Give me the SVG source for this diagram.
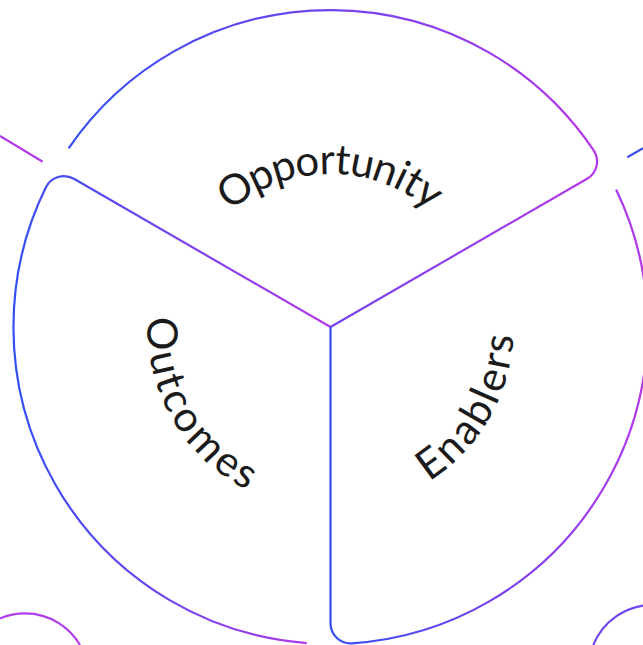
<svg xmlns="http://www.w3.org/2000/svg" width="643" height="645" viewBox="0 0 643 645">
  <style>
    .ring { fill: none; stroke-width: 2.2; stroke-linecap: butt; stroke-linejoin: round; }
    .label { font-family: Lato, "Open Sans", "Liberation Sans", sans-serif; font-size: 42px; letter-spacing: 0.8px; fill: #1b1b1b; }
  </style>
  <defs>
    <!-- horizontal blue-to-violet strokes, one per segment -->
    <linearGradient id="gTop" gradientUnits="userSpaceOnUse" x1="68" y1="0" x2="598" y2="0">
      <stop offset="0" stop-color="#3350f2"/>
      <stop offset="1" stop-color="#b638ea"/>
    </linearGradient>
    <linearGradient id="gLeft" gradientUnits="userSpaceOnUse" x1="13" y1="0" x2="331" y2="0">
      <stop offset="0" stop-color="#3350f2"/>
      <stop offset="1" stop-color="#b638ea"/>
    </linearGradient>
    <linearGradient id="gRight" gradientUnits="userSpaceOnUse" x1="330" y1="0" x2="648" y2="0">
      <stop offset="0" stop-color="#3350f2"/>
      <stop offset="1" stop-color="#b638ea"/>
    </linearGradient>
    <!-- label guides, radius 168 around the hub -->
    <path id="arcTop" d="M162.5,327 A168,168 0 0 1 498.5,327"/>
    <path id="arcLeft" d="M234.1,189.4 A168,168 0 0 0 401.5,479.3"/>
    <path id="arcRight" d="M259.5,479.3 A168,168 0 0 0 426.9,189.4"/>
  </defs>

  <!-- fragments of the neighbouring rings -->
  <g id="neighbours" class="ring">
    <line x1="0" y1="136" x2="42.7" y2="161.7" stroke="#b43ae9"/>
    <line x1="627.3" y1="157.3" x2="643" y2="148.3" stroke="#3a4ff2"/>
    <path d="M-30,645 A63.6,63.6 0 0 1 80,645" stroke="#b03cea"/>
    <path d="M593.3,645 A64,64 0 0 1 712,645" stroke="#6f45f0"/>
  </g>

  <g id="opportunity">
    <path class="ring" stroke="url(#gTop)" d="M68.6,148.4 A317,317 0 0 1 593.7,150.4 A20,20 0 0 1 587.1,178.8 L330.5,327"/>
    <text class="label" dy="15"><textPath href="#arcTop" startOffset="50%" text-anchor="middle">Opportunity</textPath></text>
  </g>

  <g id="outcomes">
    <path class="ring" stroke="url(#gLeft)" d="M330.5,327 L73.9,178.8 A20,20 0 0 0 45.9,187.3 A317,317 0 0 0 306.7,643.1"/>
    <text class="label" dy="15"><textPath href="#arcLeft" startOffset="50%" text-anchor="middle">Outcomes</textPath></text>
  </g>

  <g id="enablers">
    <path class="ring" stroke="url(#gRight)" d="M330.5,327 L330.5,623.3 A20,20 0 0 0 351.9,643.3 A317,317 0 0 0 616.1,189.5"/>
    <text class="label" dy="15"><textPath href="#arcRight" startOffset="50%" text-anchor="middle">Enablers</textPath></text>
  </g>
</svg>
